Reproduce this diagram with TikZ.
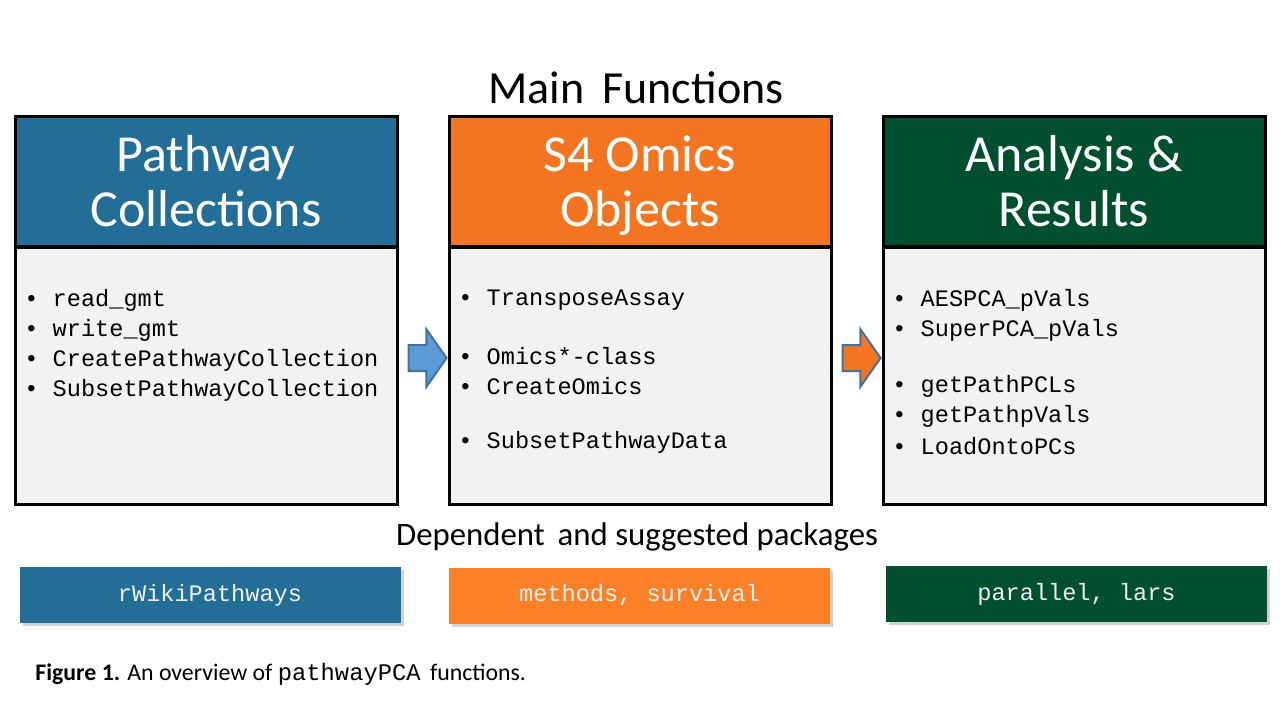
\documentclass[tikz,border=0pt]{standalone}
\usepackage{fontspec}
\setmainfont{Carlito}
\setmonofont{Liberation Mono}
\usetikzlibrary{shapes.arrows,shadows}

\definecolor{pwblue}{RGB}{35,110,150}
\definecolor{omorange}{RGB}{244,117,33}
\definecolor{pkorange}{RGB}{252,128,40}
\definecolor{angreen}{RGB}{0,80,48}
\definecolor{bodygray}{RGB}{242,242,242}
\definecolor{arrblue}{RGB}{91,155,213}
\definecolor{arredge}{RGB}{65,113,156}

\tikzset{
  head/.style={draw=black, line width=1.5pt, minimum width=191pt, minimum height=65pt,
    text=white, align=center, font=\fontsize{26}{27.5}\selectfont},
  body/.style={draw=black, line width=1.5pt, fill=bodygray, minimum width=191pt, minimum height=128.5pt},
  fn/.style={anchor=west, inner sep=0pt, font=\ttfamily\fontsize{11.8}{13}\selectfont},
  pkg/.style={minimum width=190.5pt, minimum height=28pt, text=white!94!black,
    font=\ttfamily\fontsize{11.8}{13}\selectfont,
    drop shadow={shadow xshift=1.5pt, shadow yshift=-1.5pt, opacity=0.35}},
  blockarrow/.style={single arrow, draw=arredge, line width=1pt, inner sep=6pt,
    minimum height=19pt, single arrow head extend=8pt, single arrow tip angle=110}
}

\begin{document}
\begin{tikzpicture}[x=0.5pt, y=-0.5pt]
    \useasboundingbox (0,0) rectangle (1280,720);

    % Title
    \node[font=\fontsize{23}{25}\selectfont] (title) at (636,88) {Main\, Functions};

    % Pathway collections
    \node[body] (pcBody) at (206,375.5) {};
    \node[head, fill=pwblue] (pcHead) at (206,181) {Pathway\\Collections};
    \node[fn] (pc1) at (24,300) {• read\_gmt};
    \node[fn] (pc2) at (24,330) {• write\_gmt};
    \node[fn] (pc3) at (24,360) {• CreatePathwayCollection};
    \node[fn] (pc4) at (24,390) {• SubsetPathwayCollection};

    % S4 omics objects
    \node[body] (omBody) at (640,375.5) {};
    \node[head, fill=omorange] (omHead) at (640,181) {S4 Omics\\Ob\smash{j}ects};
    \node[fn] (om1) at (458,300) {• TransposeAssay};
    \node[fn] (om2) at (458,356) {• Omics*-class};
    \node[fn] (om3) at (458,386) {• CreateOmics};
    \node[fn] (om4) at (458,442) {• SubsetPathwayData};

    % Analysis and results
    \node[body] (anBody) at (1074,375.5) {};
    \node[head, fill=angreen] (anHead) at (1074,181) {Analysis \&\\Results};
    \node[fn] (an1) at (892,300) {• AESPCA\_pVals};
    \node[fn] (an2) at (892,330) {• SuperPCA\_pVals};
    \node[fn] (an3) at (892,386) {• getPathPCLs};
    \node[fn] (an4) at (892,416) {• getPathpVals};
    \node[fn] (an5) at (892,446) {• LoadOntoPCs};

    % Block arrows
    \node[blockarrow, fill=arrblue] (arrA) at (423,358) {};
    \node[blockarrow, fill=omorange] (arrB) at (857,358) {};

    % Packages
    \node[font=\fontsize{16.4}{18}\selectfont] (deps) at (637,537) {Dependent\, and suggested packages};
    \node[pkg, fill=pwblue] (pkA) at (210,595) {rWikiPathways};
    \node[pkg, fill=pkorange] (pkB) at (639.5,595.5) {methods, survival};
    \node[pkg, fill=angreen] (pkC) at (1076.5,594) {parallel, lars};

    % Caption
    \node[anchor=west, inner sep=0pt, font=\fontsize{11.9}{13}\selectfont] (cap) at (35,674)
      {\textbf{Figure 1.} An overview of \texttt{pathwayPCA}\, functions.};
\end{tikzpicture}
\end{document}
